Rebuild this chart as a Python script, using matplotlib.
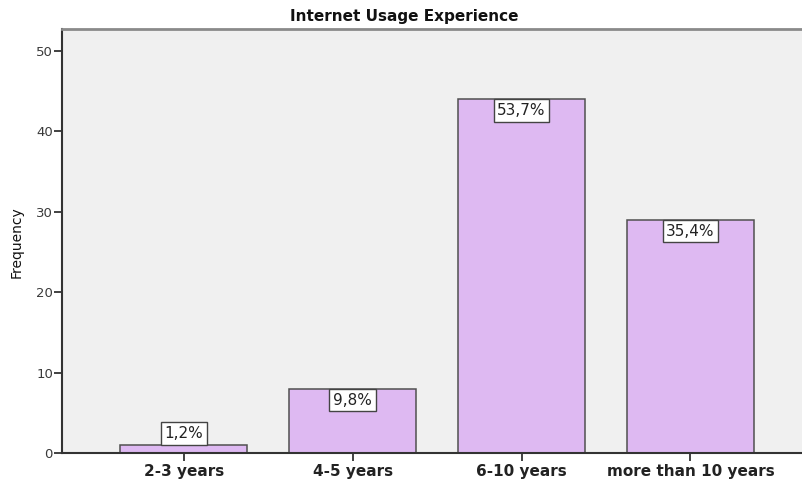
import matplotlib
matplotlib.use("Agg")
import matplotlib.pyplot as plt

categories = ["2-3 years", "4-5 years", "6-10 years", "more than 10 years"]
frequencies = [1, 8, 44, 29]
percent_labels = ["1,2%", "9,8%", "53,7%", "35,4%"]
y_ticks = [0, 10, 20, 30, 40, 50]

plt.rcParams['font.family'] = ['DejaVu Sans']

fig = plt.figure(figsize=(8.02, 4.82), dpi=100)
W, H = 802, 482
left, right, top, bottom = 62, 802, 29, 453
ax = fig.add_axes([left / W, 1 - bottom / H, (right - left) / W, (bottom - top) / H])
ax.set_facecolor('#F0F0F0')

x = list(range(len(categories)))
ax.bar(x, frequencies, width=0.75, color='#DEB9F2', edgecolor='#505050', linewidth=1.1, zorder=2)

ax.set_xlim(-0.72, 3.66)
ax.set_ylim(0, 52.7)
ax.set_yticks(y_ticks)
ax.set_yticklabels([str(v) for v in y_ticks], fontsize=9.5, color='#3A3A3A')
ax.set_xticks(x)
ax.set_xticklabels(categories, fontsize=11, fontweight='bold', color='#222222')
ax.tick_params(axis='both', direction='out', length=6, width=1.3, color='#333333')
ax.tick_params(axis='y', pad=0.5)
ax.tick_params(axis='x', pad=2)

ax.spines['right'].set_visible(False)
ax.spines['top'].set_color('#8A8A8A')
ax.spines['top'].set_linewidth(2)
ax.spines['left'].set_color('#333333')
ax.spines['left'].set_linewidth(1.5)
ax.spines['bottom'].set_color('#333333')
ax.spines['bottom'].set_linewidth(1.5)

fs = 11
pad = 0.24
for xi, f, lab in zip(x, frequencies, percent_labels):
    box = dict(boxstyle=f'square,pad={pad}', fc='white', ec='#444444', lw=1)
    if f < 5:
        ax.annotate(lab, xy=(xi, f), xytext=(0, pad * fs + 0.3), textcoords='offset points',
                    ha='center', va='bottom', fontsize=fs, color='#222222',
                    bbox=box, zorder=3)
    else:
        ax.annotate(lab, xy=(xi, f), xytext=(0, -pad * fs - 0.3), textcoords='offset points',
                    ha='center', va='top', fontsize=fs, color='#222222',
                    bbox=box, zorder=3)

fig.text(404 / W, 1 - 16 / H, "Internet Usage Experience", ha='center', va='center',
         fontsize=11, fontweight='bold', color='#111111')
fig.text(17 / W, 1 - 242 / H, "Frequency", ha='center', va='center', rotation=90,
         fontsize=10, color='#111111')

fig.savefig("out.png", dpi=100)
